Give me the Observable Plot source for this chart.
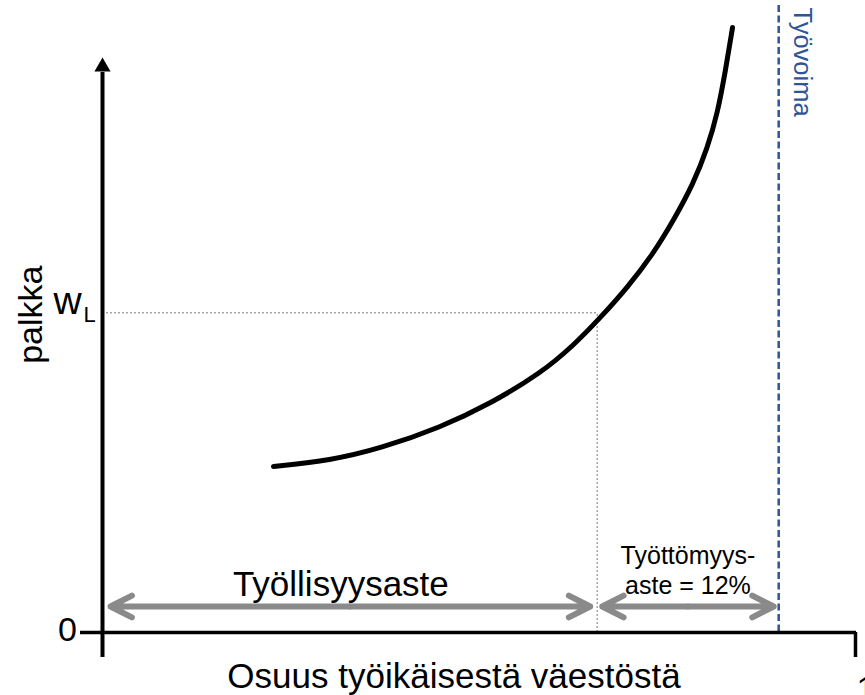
<!DOCTYPE html>
<html>
<head>
<meta charset="utf-8">
<script src="https://cdn.jsdelivr.net/npm/d3@7"></script>
<script src="https://cdn.jsdelivr.net/npm/@observablehq/plot@0.6"></script>
<style>
  html, body { margin: 0; padding: 0; background: #fff; }
  svg { display: block; }
</style>
</head>
<body>
<div id="chart"></div>
<script>
// Labour supply curve (share of working-age population vs. wage)
const curveX = [0.2271, 0.3028, 0.3692, 0.4489, 0.5153, 0.5817, 0.6255, 0.6614, 0.6972, 0.7317, 0.7583, 0.7849, 0.8035, 0.8167, 0.8274, 0.8367];
const curveY = [0.2767, 0.2867, 0.3067, 0.3417, 0.3817, 0.4317, 0.4783, 0.5250, 0.5750, 0.6317, 0.6867, 0.7483, 0.8083, 0.8650, 0.9367, 1.0083];

const employmentShare = 0.657;   // employment rate
const laborForceShare = 0.898;   // labour force
const wageL = 0.533;             // w_L

const tickLabels = ["0", "1"];
const yLabel = "palkka";
const xLabel = "Osuus työikäisestä väestöstä";
const employmentLabel = "Työllisyysaste";
const unemploymentLabel = "Työttömyys-\naste = 12%";
const laborForceLabel = "Työvoima";

const curve = curveX.map((x, i) => ({x, y: curveY[i]}));

const font = "'Liberation Sans', Arial, sans-serif";
const grey = "#8a8a8a";
const blue = "#2f5597";
const arrowOpts = {stroke: grey, strokeWidth: 6, headLength: 6, headAngle: 54, dy: -26};

const chart = Plot.plot({
  width: 865,
  height: 695,
  marginLeft: 102,
  marginRight: 10,
  marginTop: 32,
  marginBottom: 63,
  x: {domain: [0, 1], axis: null},
  y: {domain: [0, 1], axis: null},
  style: {fontFamily: font, background: "#fff", color: "#000"},
  marks: [
    // guide lines
    Plot.ruleY([wageL], {x1: 0, x2: employmentShare, stroke: "#a6a6a6", strokeWidth: 1.5, strokeDasharray: "2,2"}),
    Plot.ruleX([employmentShare], {y1: 0, y2: wageL, stroke: "#a6a6a6", strokeWidth: 1.5, strokeDasharray: "2,2"}),
    Plot.ruleX([laborForceShare], {stroke: blue, strokeWidth: 2.5, strokeDasharray: "7,3.5", insetTop: -27}),
    // axes
    Plot.ruleY([0], {stroke: "#000", strokeWidth: 3.5, insetLeft: -22, insetRight: -1}),
    Plot.ruleX([0], {stroke: "#000", strokeWidth: 4, insetTop: 40, insetBottom: -25}),
    Plot.ruleX([1], {y1: 0, y2: 0, stroke: "#000", strokeWidth: 3.5, insetBottom: -25}),
    Plot.dot([0], {x: d => d, frameAnchor: "top", symbol: "triangle", r: 6, fill: "#000", stroke: "none", dy: 34.3}),
    // supply curve
    Plot.line(curve, {x: "x", y: "y", curve: "basis", stroke: "#000", strokeWidth: 5}),
    // double arrows
    Plot.arrow([0], {x1: employmentShare / 2, y1: 0, x2: 0, y2: 0, insetEnd: 8, ...arrowOpts}),
    Plot.arrow([0], {x1: employmentShare / 2, y1: 0, x2: employmentShare, y2: 0, insetEnd: 7, ...arrowOpts}),
    Plot.arrow([0], {x1: (employmentShare + laborForceShare) / 2, y1: 0, x2: employmentShare, y2: 0, insetEnd: 5, ...arrowOpts}),
    Plot.arrow([0], {x1: (employmentShare + laborForceShare) / 2, y1: 0, x2: laborForceShare, y2: 0, insetEnd: 5, ...arrowOpts}),
    // texts
    Plot.text([tickLabels[0]], {x: 0, y: 0, text: d => d, fontSize: 34, textAnchor: "middle", lineAnchor: "bottom", dx: -35, dy: 8, fill: "#000"}),
    Plot.text([tickLabels[1]], {x: 1, y: 0, text: d => d, fontSize: 34, textAnchor: "start", lineAnchor: "bottom", dx: 1, dy: 67, fill: "#000"}),
    Plot.text(["w"], {x: 0, y: wageL, text: d => d, fontSize: 39, textAnchor: "start", lineAnchor: "bottom", dx: -49, dy: 1, fill: "#000"}),
    Plot.text(["L"], {x: 0, y: wageL, text: d => d, fontSize: 22, textAnchor: "start", lineAnchor: "bottom", dx: -19, dy: 9, fill: "#000"}),
    Plot.text([yLabel], {x: 0, y: wageL, text: d => d, fontSize: 34, rotate: -90, textAnchor: "middle", lineAnchor: "bottom", dx: -61, dy: 2, fill: "#000"}),
    Plot.text([xLabel], {frameAnchor: "bottom", text: d => d, fontSize: 35, textAnchor: "middle", lineAnchor: "bottom", dx: -25, dy: 55, fill: "#000"}),
    Plot.text([employmentLabel], {x: employmentShare / 2, y: 0, text: d => d, fontSize: 35, textAnchor: "middle", lineAnchor: "bottom", dx: -9, dy: -37, fill: "#000"}),
    Plot.text([unemploymentLabel], {x: (employmentShare + laborForceShare) / 2, y: 0, text: d => d, fontSize: 25, lineHeight: 1.18, textAnchor: "middle", lineAnchor: "bottom", dy: -39, fill: "#000"}),
    Plot.text([laborForceLabel], {x: laborForceShare, frameAnchor: "top", text: d => d, fontSize: 25.5, rotate: 90, textAnchor: "start", lineAnchor: "bottom", dx: 15, dy: -25, fill: blue})
  ]
});

document.getElementById("chart").appendChild(chart);
</script>
</body>
</html>
